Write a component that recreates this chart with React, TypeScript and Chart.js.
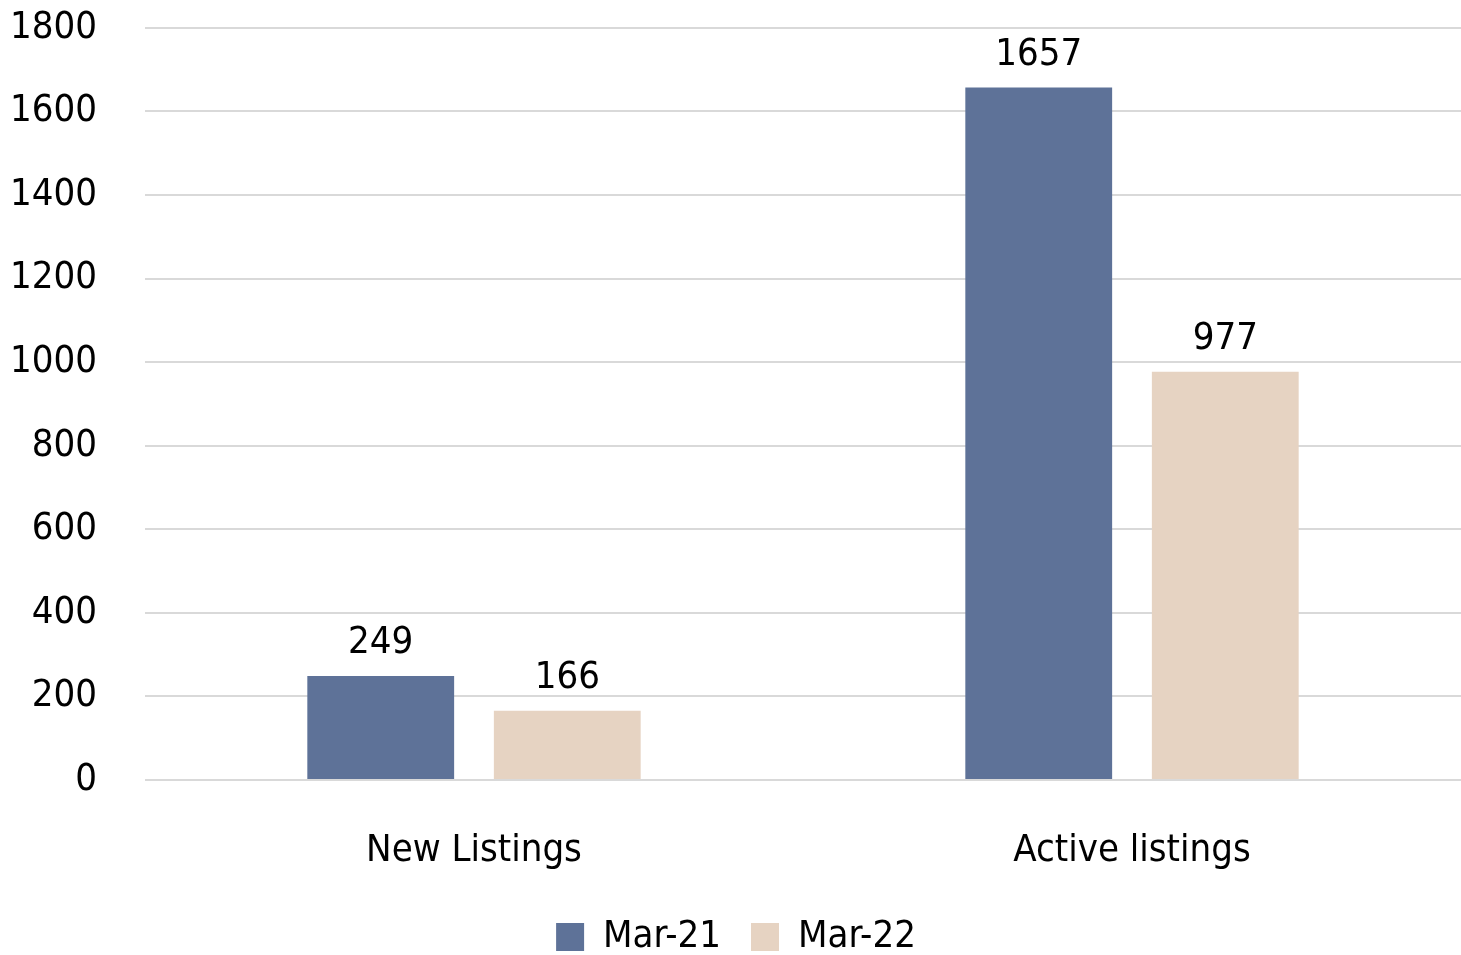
import React, { useEffect, useRef } from "react";
import { Chart, registerables } from "chart.js";

Chart.register(...registerables);

const categories = ["New Listings", "Active listings"];
const seriesNames = ["Mar-21", "Mar-22"];
const mar21 = [249, 1657];
const mar22 = [166, 977];
const colors = ["#5e7298", "#e6d3c2"];
const FONT = "'DejaVu Sans Condensed', sans-serif";

const labelPlugin = {
  id: "valueLabels",
  afterDatasetsDraw(chart: any) {
    const ctx = chart.ctx;
    ctx.save();
    ctx.font = `38px ${FONT}`;
    ctx.fillStyle = "#000";
    ctx.textAlign = "center";
    ctx.textBaseline = "alphabetic";
    chart.data.datasets.forEach((ds: any, i: number) => {
      const meta = chart.getDatasetMeta(i);
      meta.data.forEach((bar: any, j: number) => {
        ctx.fillText(String(ds.data[j]), bar.x, bar.y - 23);
      });
    });
    ctx.restore();
  },
};

export default function App() {
  const ref = useRef<HTMLCanvasElement>(null);
  useEffect(() => {
    document.body.style.margin = "0";
    const chart = new Chart(ref.current!, {
      type: "bar",
      data: {
        labels: categories,
        datasets: [
          { label: seriesNames[0], data: mar21, backgroundColor: colors[0] },
          { label: seriesNames[1], data: mar22, backgroundColor: colors[1] },
        ],
      },
      options: {
        animation: false,
        responsive: false,
        maintainAspectRatio: false,
        layout: { padding: { top: 0, right: -11, bottom: -11, left: 0 } },
        datasets: { bar: { categoryPercentage: 0.567, barPercentage: 0.787 } },
        scales: {
          y: {
            min: 0,
            max: 1800,
            ticks: {
              stepSize: 200,
              color: "#000",
              font: { family: FONT, size: 38 },
              padding: 5,
              callback: (v: any) => String(v),
            },
            grid: {
              color: "#d9d9d9",
              lineWidth: 2,
              drawTicks: true,
              tickLength: 43,
              tickColor: "rgba(0,0,0,0)",
            },
            border: { display: false },
            afterFit: (s: any) => { s.width = 145; },
          },
          x: {
            ticks: { color: "#000", font: { family: FONT, size: 38 }, padding: 48 },
            grid: { display: false, drawTicks: false },
            border: { display: false },
            afterFit: (s: any) => { s.height = 108; },
          },
        },
        plugins: {
          legend: {
            position: "bottom",
            labels: {
              color: "#000",
              font: { family: FONT, size: 38 },
              boxWidth: 28,
              boxHeight: 28,
              padding: 30,
            },
          },
          tooltip: { enabled: false },
        },
      },
      plugins: [labelPlugin],
    });
    return () => chart.destroy();
  }, []);
  return (
    <div style={{ position: "absolute", left: 0, top: 0, width: 1461, height: 955 }}>
      <canvas ref={ref} width={1461} height={955} />
    </div>
  );
}
